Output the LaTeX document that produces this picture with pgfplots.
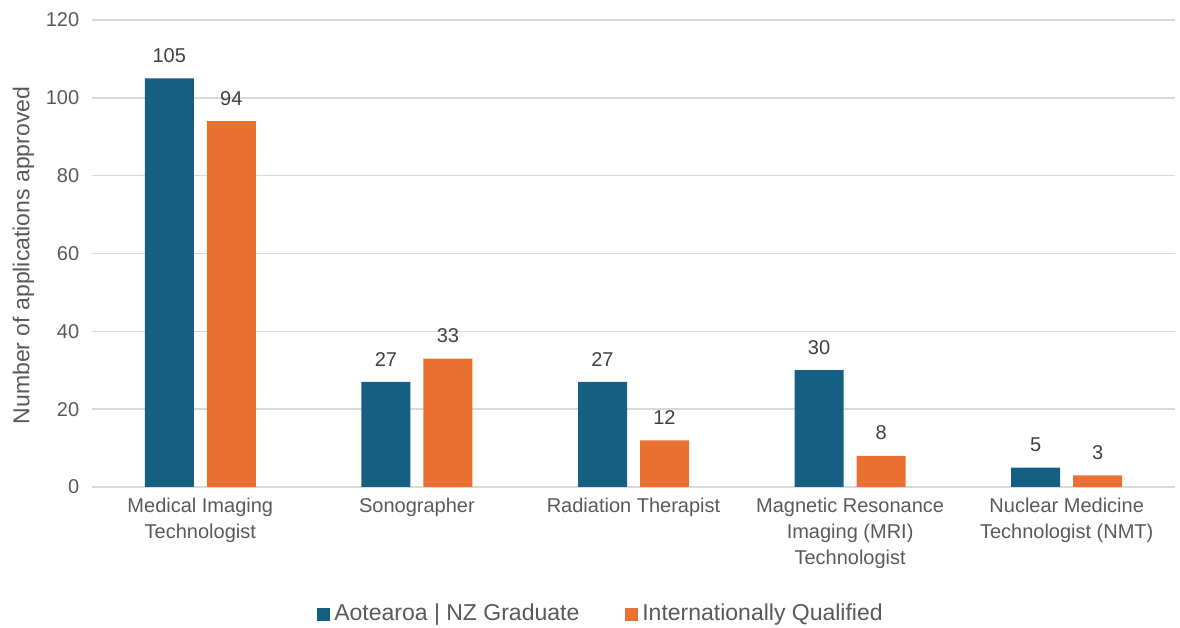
\documentclass[border=0pt]{standalone}
\usepackage{pgfplots}
\pgfplotsset{compat=1.18}
\usepackage{fontspec}
\setmainfont{Liberation Sans}
\definecolor{cblue}{HTML}{156082}
\definecolor{corange}{HTML}{E97132}
\definecolor{txt}{HTML}{595959}
\definecolor{grid}{HTML}{D9D9D9}
\begin{document}
\fontsize{20}{26}\selectfont
\begin{tikzpicture}
\begin{axis}[
  scale only axis, width=1083pt, height=467pt,
  ybar=13pt, bar width=49pt,
  xmin=-0.5, xmax=4.5, ymin=0, ymax=120,
  ytick={0,20,...,120},
  xtick={0,1,2,3,4},
  xticklabels={{Medical Imaging\\Technologist},{Sonographer},{Radiation Therapist},{Magnetic Resonance\\Imaging (MRI)\\Technologist},{Nuclear Medicine\\Technologist (NMT)}},
  xticklabel style={align=center, text=txt, font=\fontsize{20}{26}\selectfont, yshift=-4pt},
  yticklabel style={text=txt, font=\fontsize{20}{26}\selectfont, xshift=-6pt},
  /pgf/number format/assume math mode=true,
  major tick length=0pt,
  axis x line*=bottom, axis y line*=left,
  x axis line style={draw=grid, line width=1.4pt, -},
  y axis line style={draw=none},
  ymajorgrids, grid style={draw=grid, line width=1.4pt},
  ylabel={Number of applications approved},
  every axis y label/.style={at={(ticklabel cs:0.5)}, rotate=90, anchor=south, xshift=-2pt, yshift=-2pt, text=txt, font=\fontsize{23}{26}\selectfont},
  nodes near coords,
  every node near coord/.append style={text=black!75, font=\fontsize{20}{26}\selectfont, yshift=9pt},
  legend style={draw=none, at={(0.47,-0.272)}, anchor=center, legend columns=2, font=\fontsize{23}{26}\selectfont, text=txt, /tikz/every even column/.append style={column sep=44pt}, /tikz/every odd column/.append style={column sep=2pt}},
  legend image code/.code={\fill[#1] (0pt,-7pt) rectangle (13pt,6pt);},
]
\addplot[fill=cblue, draw=none] coordinates {(0,105) (1,27) (2,27) (3,30) (4,5)};
\addplot[fill=corange, draw=none] coordinates {(0,94) (1,33) (2,12) (3,8) (4,3)};
\legend{Aotearoa | NZ Graduate, Internationally Qualified}
\coordinate (O) at (rel axis cs:0,0);
\end{axis}
\pgfresetboundingbox
\path ([xshift=-92pt,yshift=-141pt]O) rectangle ++(1180pt,628pt);
\end{tikzpicture}
\end{document}
